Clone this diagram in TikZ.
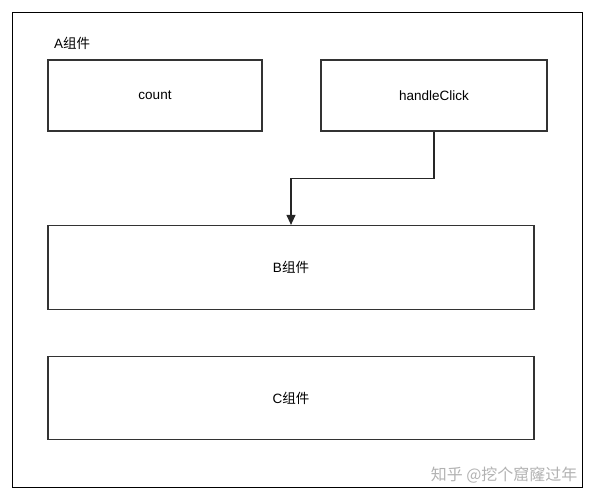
\documentclass[tikz,border=0pt]{standalone}
\usepackage{fontspec}
\setmainfont{Liberation Sans}
\newfontfamily\cjk{Noto Sans CJK SC}
\usetikzlibrary{arrows.meta}
\begin{document}
\begin{tikzpicture}[x=1pt,y=-1pt,
    box/.style={draw=black!80,line width=1.2pt,inner sep=0pt,
                font=\fontsize{13.5}{15}\selectfont},
    link/.style={draw=black!85,line width=1.1pt,-{Triangle[length=10pt,width=9pt]}}]
    \useasboundingbox (0,0) rectangle (595,500);
    % outer frame: A
    \draw [line width=0.9pt] (12.5,12) rectangle (582,487.5);
    \node [anchor=west,font=\fontsize{13.5}{15}\selectfont] (alabel) at (50.5,43) {A{\cjk 组件}};
    \node [box,minimum width=214,minimum height=71] (count) at (155,95.5) {count};
    \node [box,minimum width=226,minimum height=71] (hclick) at (434,95.5) {handleClick};
    \node [box,minimum width=486,minimum height=84] (bcomp) at (291,267.5) {B{\cjk 组件}};
    \node [box,minimum width=486,minimum height=83] (ccomp) at (291,398) {C{\cjk 组件}};
    \draw [link] (hclick.south) -- ++(0,47) -| (bcomp.north);
    % watermark
    \node [anchor=east,text=black!30,font=\fontsize{16}{18}\cjk] (mark) at (581,475) {知乎 @挖个窟窿过年};
\end{tikzpicture}
\end{document}
